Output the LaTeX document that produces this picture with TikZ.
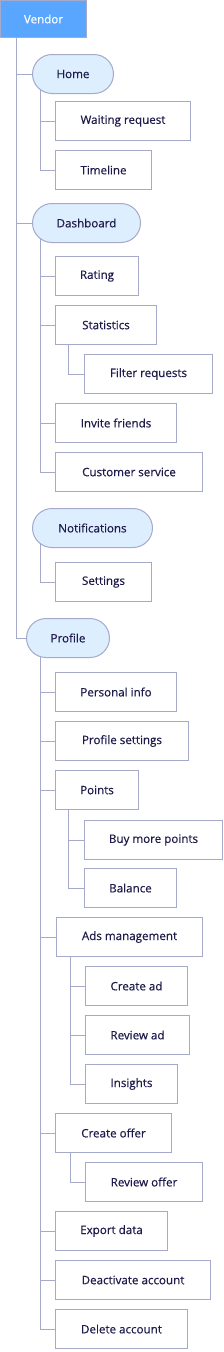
\documentclass[tikz,border=0pt]{standalone}
\usepackage{fontspec}
\setmainfont{Open Sans}[FakeBold=0.5]
\usepackage{xcolor}
\definecolor{TreeLine}{HTML}{A5AACB}
\definecolor{TreeInk}{HTML}{1E1B4B}
\definecolor{TreePill}{HTML}{DDEEFE}
\definecolor{TreeBlue}{HTML}{58A6FF}
\usetikzlibrary{backgrounds}

\begin{document}
\begin{tikzpicture}[
  x=1pt,y=-1pt,
  font=\fontsize{11.6}{13}\selectfont,
  treebox/.style={anchor=north west,draw=TreeLine,line width=1pt,fill=white,text=TreeInk,minimum height=39pt,inner sep=0pt},
  leafbox/.style={treebox,minimum width=#1},
  pillbox/.style={treebox,fill=TreePill,rounded corners=19.5pt,minimum width=#1},
  rootbox/.style={treebox,fill=TreeBlue,text=white,minimum width=86pt,minimum height=37pt},
  link/.style={draw=TreeLine,line width=1pt}
]
\useasboundingbox (0,0) rectangle (223,1352);

% root
\node[rootbox] (vendor) at (0,0) {Vendor};

% home
\node[pillbox=81] (home) at (32,54) {Home};
\node[leafbox=135] (waiting) at (55,101) {Waiting request};
\node[leafbox=96] (timeline) at (55,150) {Timeline};

% dashboard
\node[pillbox=108] (dash) at (32,203) {Dashboard};
\node[leafbox=83] (rating) at (55,256) {Rating};
\node[leafbox=101] (stats) at (55,305) {Statistics};
\node[leafbox=128] (filter) at (84,354) {Filter requests};
\node[leafbox=121] (invite) at (55,403) {Invite friends};
\node[leafbox=147] (service) at (55,452) {Customer service};

% notifications
\node[pillbox=120] (notif) at (32,508) {Notifications};
\node[leafbox=96] (settings) at (55,562) {Settings};

% profile
\node[pillbox=83] (profile) at (26,618) {Profile};
\node[leafbox=121] (info) at (55,672) {Personal info};
\node[leafbox=133] (psettings) at (55,721) {Profile settings};
\node[leafbox=83] (points) at (55,770) {Points};
\node[leafbox=138] (buy) at (84,820) {Buy more points};
\node[leafbox=92] (balance) at (84,868) {Balance};
\node[leafbox=146] (ads) at (56,917) {Ads management};
\node[leafbox=102] (createad) at (85,966) {Create ad};
\node[leafbox=104] (reviewad) at (85,1015) {Review ad};
\node[leafbox=92] (insights) at (85,1064) {Insights};
\node[leafbox=116] (createoffer) at (55,1113) {Create offer};
\node[leafbox=117] (reviewoffer) at (85,1162) {Review offer};
\node[leafbox=112] (export) at (55,1211) {Export data};
\node[leafbox=155] (deactivate) at (55,1260) {Deactivate account};
\node[leafbox=132] (delete) at (55,1309) {Delete account};

\begin{pgfonlayer}{background}
% main branches
\foreach \sub in {home,dash,profile}
  \draw[link] ([xshift=16pt]vendor.south west) |- (\sub.west);
% second level
\foreach \sub in {waiting,timeline}
  \draw[link] ([xshift=8pt]home.west) |- (\sub.west);
\foreach \sub in {rating,stats,invite,service}
  \draw[link] ([xshift=8pt]dash.west) |- (\sub.west);
\draw[link] ([xshift=8pt]notif.west) |- (settings.west);
\foreach \sub in {info,psettings,points,ads,createoffer,export,deactivate,delete}
  \draw[link] ([xshift=14pt]profile.west) |- (\sub.west);
% third level
\draw[link] ([xshift=13pt]stats.south west) |- (filter.west);
\foreach \sub in {buy,balance}
  \draw[link] ([xshift=13pt]points.south west) |- (\sub.west);
\foreach \sub in {createad,reviewad,insights}
  \draw[link] ([xshift=14pt]ads.south west) |- (\sub.west);
\draw[link] ([xshift=15pt]createoffer.south west) |- (reviewoffer.west);
\end{pgfonlayer}
\end{tikzpicture}
\end{document}
